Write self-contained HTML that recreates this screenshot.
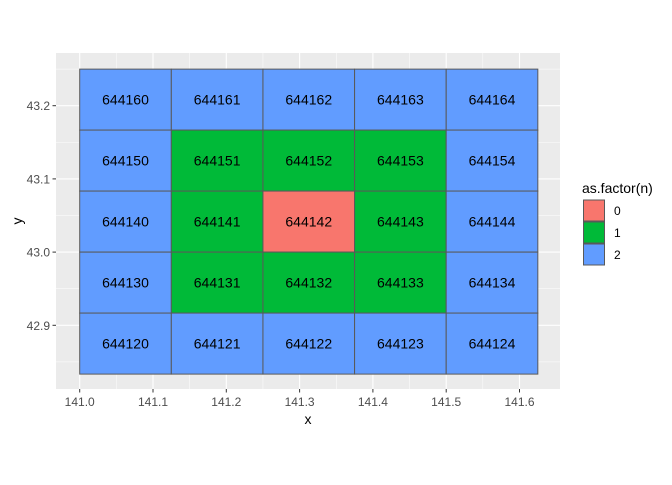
<!DOCTYPE html>
<html><head><meta charset="utf-8"><style>
body{margin:0;background:#fff;font-family:"Liberation Sans",sans-serif;}
</style></head><body>
<svg id="chart" width="672" height="480" xmlns="http://www.w3.org/2000/svg">
<rect x="0" y="0" width="672" height="480" fill="#fff"/>
<rect x="56" y="53" width="504" height="336" fill="#EBEBEB"/>
<g id="grid"></g><g id="tiles"></g><g id="axes"></g>
<text x="308" y="424" font-size="14" text-anchor="middle" fill="#000">x</text>
<text x="22" y="221" font-size="14" text-anchor="middle" fill="#000" transform="rotate(-90 22 221)">y</text>
<g id="legend"></g>
</svg>
<script>
const xCenters=[141.0625,141.1875,141.3125,141.4375,141.5625];
const yCenters=[43.2083,43.125,43.0417,42.9583,42.875];
const nValues=[[2,2,2,2,2],[2,1,1,1,2],[2,1,0,1,2],[2,1,1,1,2],[2,2,2,2,2]];
const ids=[[644160,644161,644162,644163,644164],[644150,644151,644152,644153,644154],[644140,644141,644142,644143,644144],[644130,644131,644132,644133,644134],[644120,644121,644122,644123,644124]];
const xTicks=[141.0,141.1,141.2,141.3,141.4,141.5,141.6];
const yTicks=[42.9,43.0,43.1,43.2];
const levels=["0","1","2"];
const colors=["#F8766D","#00BA38","#619CFF"];
const tileW=0.125, tileH=1/12;
const NS="http://www.w3.org/2000/svg";
function sx(v){return 79.7+(v-141)*733;}
function sy(v){return 105.7-(v-43.2)*732;}
function mk(t,a,p){const e=document.createElementNS(NS,t);for(const k in a)e.setAttribute(k,a[k]);p.appendChild(e);return e;}
const grid=document.getElementById('grid');
for(let i=0;i<xTicks.length;i++){
 const l=mk('line',{x1:sx(xTicks[i]),x2:sx(xTicks[i]),y1:53,y2:389,stroke:'#fff','stroke-width':1.1},grid);
 
 
 if(i<xTicks.length-1){const m=(xTicks[i]+xTicks[i+1])/2;const l2=mk('line',{x1:sx(m),x2:sx(m),y1:53,y2:389,stroke:'#fff','stroke-width':0.5},grid);
 
 }
}
const yAll=[42.85].concat(yTicks);
for(let i=0;i<yTicks.length;i++){
 const l=mk('line',{x1:56,x2:560,y1:sy(yTicks[i]),y2:sy(yTicks[i]),stroke:'#fff','stroke-width':1.1},grid);
 
 
 const m=yTicks[i]+0.05;const l2=mk('line',{x1:56,x2:560,y1:sy(m),y2:sy(m),stroke:'#fff','stroke-width':0.5},grid);
 
 
}
const l0=mk('line',{x1:56,x2:560,y1:sy(42.85),y2:sy(42.85),stroke:'#fff','stroke-width':0.5},grid);


const tiles=document.getElementById('tiles');
for(let r=0;r<yCenters.length;r++)for(let c=0;c<xCenters.length;c++){
 const x0=sx(xCenters[c]-tileW/2),x1=sx(xCenters[c]+tileW/2),y0=sy(yCenters[r]+tileH/2),y1=sy(yCenters[r]-tileH/2);
 const rc=mk('rect',{x:x0,y:y0,width:x1-x0,height:y1-y0,fill:colors[nValues[r][c]],stroke:'#595959','stroke-width':1},tiles);
 
 
 const t=mk('text',{x:(x0+x1)/2,y:(y0+y1)/2+5,'font-size':14,'text-anchor':'middle',fill:'#000'},tiles);
 t.textContent=ids[r][c];
 
 
}
const axes=document.getElementById('axes');
xTicks.forEach(v=>{
 const tk=mk('line',{x1:sx(v),x2:sx(v),y1:389,y2:392.5,stroke:'#333','stroke-width':1},axes);
 
 
 const t=mk('text',{x:sx(v),y:406,'font-size':12,'text-anchor':'middle',fill:'#4D4D4D'},axes);
 t.textContent=v.toFixed(1);
 
 
});
yTicks.forEach(v=>{
 const tk=mk('line',{x1:52.5,x2:56,y1:sy(v),y2:sy(v),stroke:'#333','stroke-width':1},axes);
 
 
 const t=mk('text',{x:50,y:sy(v)+4.5,'font-size':12,'text-anchor':'end',fill:'#4D4D4D'},axes);
 t.textContent=v.toFixed(1);
 
 
});
const lg=document.getElementById('legend');
const lt=mk('text',{x:582,y:193,'font-size':14,fill:'#000'},lg);
lt.textContent='as.factor(n)';


levels.forEach((lv,i)=>{
 const y=200+i*22;
 const k=mk('rect',{x:583.5,y:y,width:21,height:21,fill:colors[i],stroke:'#595959','stroke-width':1},lg);
 
 
 const t=mk('text',{x:614,y:y+15,'font-size':12,fill:'#000'},lg);
 t.textContent=lv;
 
 
});
</script>
</body></html>
